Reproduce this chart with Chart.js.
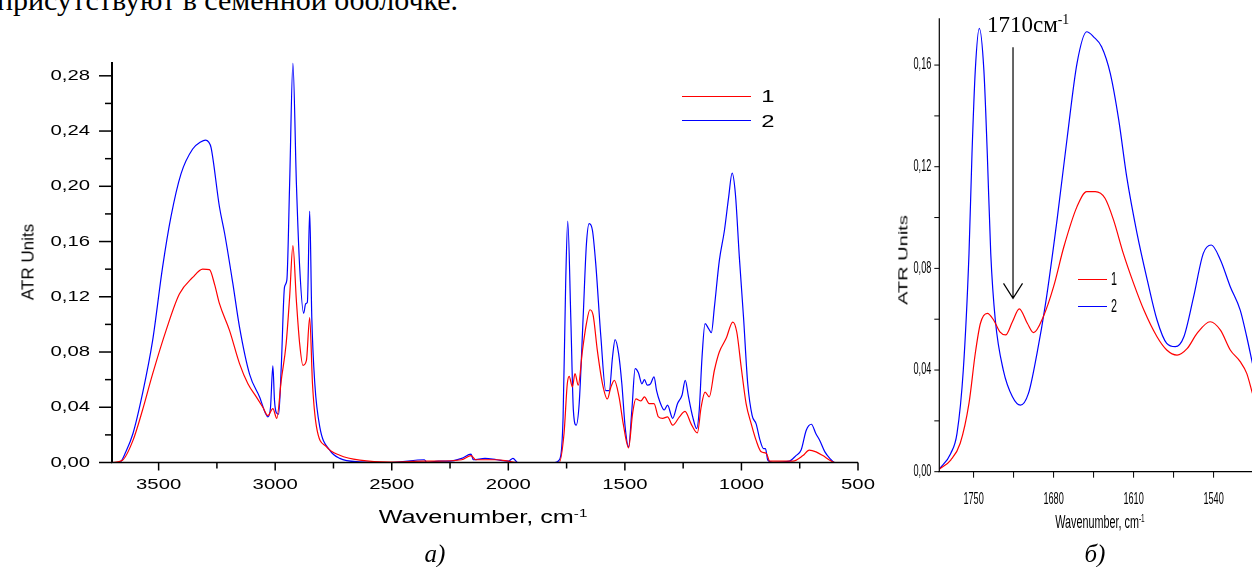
<!DOCTYPE html>
<html lang="ru">
<head>
<meta charset="utf-8">
<title>ATR spectra</title>
<script src="https://cdn.jsdelivr.net/npm/chart.js@4.4.1/dist/chart.umd.min.js"></script>
<style>
    html, body {
        margin: 0;
        padding: 0;
        background: #fff;
    }
    body {
        position: relative;
        width: 1252px;
        height: 567px;
        overflow: hidden;
        font-family: 'Liberation Sans', Arial, sans-serif;
        color: #000;
    }
    canvas {
        position: absolute;
        top: 0;
    }
    .txt {
        position: absolute;
        white-space: nowrap;
        line-height: 1;
    }
    .serif {
        font-family: 'Liberation Serif', 'Times New Roman', serif;
    }
    .key {
        position: absolute;
        height: 1.3px;
    }
    sup {
        font-size: 0.6em;
        vertical-align: 0.55em;
        line-height: 0;
    }
</style>
</head>
<body>

<div class="txt serif" style="left:-3px; top:-15px; font-size:30px;">присутствуют в семенной оболочке.</div>

<canvas id="specFull" width="880" height="567" style="left:0"></canvas>
<canvas id="specZoom" width="390" height="567" style="left:880px"></canvas>

<!-- axis titles, captions and keys -->
<div class="txt" style="left:28px; top:262px; font-size:17px; transform:translate(-50%,-50%) rotate(-90deg);">ATR Units</div>
<div class="txt" style="left:483px; top:517px; font-size:18px; transform:translate(-50%,-50%) scaleX(1.4);">Wavenumber, cm<sup>-1</sup></div>
<div class="txt serif" style="left:435px; top:553px; font-size:25px; font-style:italic; transform:translate(-50%,-50%);">а)</div>

<div class="key" style="left:682px; top:95.5px; width:69px; background:#ff0000;"></div>
<div class="key" style="left:682px; top:120px; width:69px; background:#0000ff;"></div>
<div class="txt" style="left:768px; top:96px; font-size:17px; transform:translate(-50%,-50%) scaleX(1.4);">1</div>
<div class="txt" style="left:768px; top:121px; font-size:17px; transform:translate(-50%,-50%) scaleX(1.4);">2</div>

<div class="txt serif" style="left:987px; top:13px; font-size:23px;">1710см<sup>-1</sup></div>
<div class="txt" style="left:903px; top:260px; font-size:20px; transform:translate(-50%,-50%) rotate(-90deg) scaleY(0.6);">ATR Units</div>
<div class="txt" style="left:1100px; top:522px; font-size:18px; transform:translate(-50%,-50%) scaleX(0.6);">Wavenumber, cm<sup>-1</sup></div>
<div class="txt serif" style="left:1095px; top:553px; font-size:25px; font-style:italic; transform:translate(-50%,-50%);">б)</div>

<div class="key" style="left:1078px; top:278.5px; width:29px; background:#ff0000;"></div>
<div class="key" style="left:1078px; top:306px; width:29px; background:#0000ff;"></div>
<div class="txt" style="left:1114px; top:279px; font-size:18px; transform:translate(-50%,-50%) scaleX(0.6);">1</div>
<div class="txt" style="left:1114px; top:306px; font-size:18px; transform:translate(-50%,-50%) scaleX(0.6);">2</div>

<script>
    // Full range spectra, 3700-500 cm-1
    const fullWn1 = [3700, 3655, 3610, 3569, 3526, 3468, 3411, 3354, 3311, 3282, 3260, 3239, 3196, 3153, 3117, 3081,
        3053, 3031, 3010, 2993, 2974, 2953, 2938, 2924, 2909, 2895, 2881, 2866, 2852, 2840, 2823, 2780, 2723, 2637,
        2500, 2360, 2300, 2200, 2160, 2140, 2100, 2050, 2000, 1960, 1800, 1782, 1761, 1747, 1739, 1725, 1714, 1700,
        1682, 1665, 1650, 1636, 1618, 1596, 1575, 1560, 1545, 1525, 1507, 1484, 1467, 1453, 1431, 1416, 1396, 1375,
        1356, 1338, 1317, 1295, 1266, 1242, 1216, 1189, 1173, 1156, 1138, 1116, 1095, 1066, 1037, 1020, 1001, 980,
        958, 937, 915, 893, 879, 779, 736, 709, 680, 651, 621, 600, 500];
    const fullAbs1 = [0, 0.0017, 0.016, 0.038, 0.064, 0.0957, 0.122, 0.134, 0.140, 0.1396, 0.129, 0.115, 0.0957, 0.0716, 0.057, 0.0475,
        0.040, 0.034, 0.039, 0.032, 0.0595, 0.086, 0.120, 0.157, 0.117, 0.086, 0.0704, 0.074, 0.105, 0.057, 0.026, 0.0113, 0.0053, 0.0017,
        0.0003, 0.001, 0.001, 0.002, 0.005, 0.002, 0.002, 0.002, 0.001, 0, 0, 0, 0.021, 0.057, 0.0624, 0.0547, 0.0644, 0.056,
        0.081, 0.1005, 0.1106, 0.1065, 0.081, 0.057, 0.046, 0.0547, 0.0595, 0.0475, 0.028, 0.0106, 0.0354, 0.046, 0.0446, 0.0475, 0.0427, 0.0427,
        0.033, 0.032, 0.033, 0.027, 0.033, 0.037, 0.028, 0.0214, 0.040, 0.051, 0.0475, 0.0668, 0.080, 0.0897, 0.1017, 0.0945, 0.069, 0.0427,
        0.028, 0.016, 0.0077, 0.0065, 0.001, 0.001, 0.005, 0.009, 0.0077, 0.005, 0.0017, 0, 0];

    const fullWn2 = [3700, 3668, 3640, 3610, 3569, 3526, 3483, 3447, 3404, 3354, 3320, 3299, 3285, 3275, 3239, 3217,
        3182, 3153, 3110, 3067, 3031, 3020, 3010, 3003, 2995, 2985, 2974, 2960, 2950, 2938, 2924, 2909, 2895, 2878,
        2869, 2862, 2852, 2843, 2830, 2809, 2766, 2723, 2637, 2500, 2360, 2350, 2300, 2250, 2200, 2160, 2150, 2100,
        2050, 2000, 1980, 1960, 1800, 1782, 1765, 1754, 1745, 1732, 1721, 1709, 1696, 1679, 1665, 1653, 1639, 1625,
        1603, 1582, 1567, 1553, 1542, 1527, 1513, 1499, 1484, 1470, 1456, 1442, 1427, 1416, 1404, 1390, 1375, 1364,
        1350, 1331, 1317, 1295, 1274, 1255, 1241, 1227, 1209, 1192, 1181, 1169, 1156, 1141, 1129, 1116, 1095, 1073,
        1055, 1040, 1026, 1009, 991, 973, 954, 937, 920, 905, 897, 887, 865, 794, 766, 744, 722, 700, 681, 664, 642,
        621, 600, 500];
    const fullAbs2 = [0, 0, 0.008, 0.021, 0.050, 0.088, 0.1415, 0.178, 0.209, 0.227, 0.232, 0.2335, 0.232, 0.228, 0.185, 0.166,
        0.130, 0.098, 0.064, 0.0475, 0.033, 0.040, 0.070, 0.045, 0.036, 0.035, 0.069, 0.127, 0.132, 0.202, 0.289, 0.202, 0.1415, 0.108,
        0.115, 0.116, 0.182, 0.105, 0.057, 0.026, 0.009, 0.003, 0.0005, 0, 0.002, 0, 0.001, 0.001, 0.003, 0.006, 0.002, 0.003,
        0.002, 0.001, 0.003, 0, 0, 0.0017, 0.033, 0.1295, 0.1748, 0.105, 0.038, 0.027, 0.0427, 0.105, 0.158, 0.173, 0.168, 0.144,
        0.091, 0.052, 0.052, 0.0764, 0.089, 0.079, 0.057, 0.026, 0.0113, 0.038, 0.068, 0.065, 0.057, 0.060, 0.056, 0.057, 0.062, 0.052,
        0.044, 0.038, 0.0415, 0.032, 0.0427, 0.0487, 0.0595, 0.0475, 0.033, 0.0246, 0.038, 0.0764, 0.1005, 0.097, 0.094, 0.1125, 0.146, 0.168,
        0.192, 0.2095, 0.1946, 0.1487, 0.105, 0.057, 0.034, 0.028, 0.016, 0.010, 0.010, 0.0017, 0, 0.001, 0.005, 0.009, 0.0234, 0.0277, 0.021, 0.016, 0.0077,
        0.003, 0, 0];

    // Carbonyl / amide region, 1780-1506 cm-1
    const zoomWn1 = [1780, 1770, 1761.7, 1754, 1748.5, 1744, 1738, 1732.5, 1727, 1722, 1716, 1710, 1703, 1697.5, 1689, 1680,
        1671, 1659.5, 1651, 1643.5, 1635, 1627.5, 1619, 1610, 1601, 1589.5, 1581, 1572, 1563, 1554.5, 1543, 1534,
        1525.4, 1516.7, 1511, 1506];
    const zoomAbs1 = [0.001, 0.0046, 0.0112, 0.027, 0.0466, 0.0584, 0.0623, 0.0597, 0.055, 0.0538, 0.059, 0.0641, 0.0584, 0.0547, 0.061, 0.0728,
        0.0885, 0.1043, 0.1102, 0.1102, 0.1076, 0.099, 0.0859, 0.0741, 0.0636, 0.0531, 0.0479, 0.0459, 0.0485, 0.0544, 0.059, 0.0557,
        0.0479, 0.0433, 0.0387, 0.0308];
    const zoomWn2 = [1780, 1770, 1764.5, 1759, 1754, 1751.4, 1748.5, 1745, 1741, 1738, 1735, 1731, 1724, 1716, 1709, 1702,
        1694.5, 1687, 1677, 1668, 1659.5, 1651, 1645, 1638, 1630.4, 1623, 1616, 1607, 1598, 1589.5, 1581, 1573.5,
        1566, 1557.5, 1549, 1542, 1534, 1525.4, 1516.7, 1511, 1506];
    const zoomAbs2 = [0.001, 0.0072, 0.0151, 0.040, 0.086, 0.125, 0.158, 0.1744, 0.158, 0.125, 0.086, 0.0597, 0.040, 0.0295, 0.0262, 0.0308,
        0.0466, 0.0662, 0.099, 0.1318, 0.1607, 0.1731, 0.1711, 0.1672, 0.1567, 0.1384, 0.116, 0.0938, 0.0754, 0.0597, 0.0505, 0.0492,
        0.0531, 0.0688, 0.0859, 0.0892, 0.0833, 0.0728, 0.0636, 0.0531, 0.0426];

    const RED = '#ff0000';
    const BLUE = '#0000ff';

    function toPoints(xs, ys) {
        return xs.map((x, i) => ({ x: x, y: ys[i] }));
    }

    // tick indices k (value = k * step) that fall inside the scale range
    function tickIndices(scale, step) {
        const out = [];
        const lo = Math.min(scale.min, scale.max);
        const hi = Math.max(scale.min, scale.max);
        for (let k = Math.ceil(lo / step - 1e-9); k * step <= hi + 1e-9; k++) {
            out.push(k);
        }
        return out;
    }

    function stretchedText(ctx, text, x, y, align, sx) {
        ctx.save();
        ctx.translate(x, y);
        ctx.scale(sx, 1);
        ctx.textAlign = align;
        ctx.textBaseline = 'middle';
        ctx.fillText(text, 0, 0);
        ctx.restore();
    }

    // Origin-style axes: left + bottom lines, outward ticks, every second tick labelled
    const originAxes = {
        id: 'originAxes',
        afterDraw(chart, args, o) {
            const ctx = chart.ctx;
            const area = chart.chartArea;
            const xs = chart.scales.x;
            const ys = chart.scales.y;
            ctx.save();
            ctx.strokeStyle = '#000';
            ctx.fillStyle = '#000';
            ctx.font = o.font;
            ctx.lineWidth = o.tickWidth;

            tickIndices(ys, o.yStep).forEach(k => {
                const v = k * o.yStep;
                const py = ys.getPixelForValue(v);
                const major = k % 2 === 0;
                ctx.beginPath();
                ctx.moveTo(area.left - (major ? o.yMajorLen : o.yMinorLen), py);
                ctx.lineTo(area.left, py);
                ctx.stroke();
                if (major) {
                    stretchedText(ctx, v.toFixed(2).replace('.', ','), area.left - o.yGap, py, 'right', o.sx);
                }
            });

            tickIndices(xs, o.xStep).forEach(k => {
                const v = Math.round(k * o.xStep);
                const px = xs.getPixelForValue(v);
                const major = k % 2 === 0;
                ctx.beginPath();
                ctx.moveTo(px, area.bottom);
                ctx.lineTo(px, area.bottom + (major ? o.xMajorLen : o.xMinorLen));
                ctx.stroke();
                if (major) {
                    stretchedText(ctx, String(v), px, area.bottom + o.xGap, 'center', o.sx);
                }
            });

            ctx.lineWidth = o.yLineWidth;
            ctx.beginPath();
            ctx.moveTo(area.left, area.top);
            ctx.lineTo(area.left, area.bottom);
            ctx.stroke();
            ctx.lineWidth = o.xLineWidth;
            ctx.beginPath();
            ctx.moveTo(area.left - 1, area.bottom);
            ctx.lineTo(area.right, area.bottom);
            ctx.stroke();
            ctx.restore();
        }
    };

    // Down arrow pointing at the 1710 cm-1 band
    const bandArrow = {
        id: 'bandArrow',
        afterDraw(chart, args, o) {
            if (!o || o.at === undefined) return;
            const ctx = chart.ctx;
            const px = chart.scales.x.getPixelForValue(o.at);
            const top = chart.scales.y.getPixelForValue(o.from);
            const tip = chart.scales.y.getPixelForValue(o.to);
            ctx.save();
            ctx.strokeStyle = '#000';
            ctx.lineWidth = 1.2;
            ctx.beginPath();
            ctx.moveTo(px, top);
            ctx.lineTo(px, tip);
            ctx.moveTo(px - 9.5, tip - 15);
            ctx.lineTo(px, tip);
            ctx.lineTo(px + 9.5, tip - 15);
            ctx.stroke();
            ctx.restore();
        }
    };

    function lineSet(label, pts, color) {
        return {
            label: label,
            data: pts,
            borderColor: color,
            backgroundColor: color,
            borderWidth: 1.2,
            pointRadius: 0,
            cubicInterpolationMode: 'monotone',
            fill: false
        };
    }

    function makeChart(id, cfg) {
        return new Chart(document.getElementById(id), {
            type: 'line',
            data: {
                datasets: [
                    lineSet('1', toPoints(cfg.wn1, cfg.abs1), RED),
                    lineSet('2', toPoints(cfg.wn2, cfg.abs2), BLUE)
                ]
            },
            options: {
                responsive: false,
                animation: false,
                devicePixelRatio: 1,
                parsing: false,
                layout: { padding: cfg.padding },
                plugins: {
                    legend: { display: false },
                    tooltip: { enabled: false },
                    originAxes: cfg.axes,
                    bandArrow: cfg.arrow || {}
                },
                scales: {
                    x: {
                        type: 'linear',
                        reverse: true,
                        min: cfg.xMin,
                        max: cfg.xMax,
                        grid: { display: false },
                        border: { display: false },
                        ticks: { display: false },
                        afterFit(s) { s.height = cfg.xHeight; }
                    },
                    y: {
                        type: 'linear',
                        min: 0,
                        max: cfg.yMax,
                        grid: { display: false },
                        border: { display: false },
                        ticks: { display: false },
                        afterFit(s) { s.width = cfg.yWidth; }
                    }
                }
            },
            plugins: [originAxes, bandArrow]
        });
    }

    makeChart('specFull', {
        wn1: fullWn1, abs1: fullAbs1, wn2: fullWn2, abs2: fullAbs2,
        xMin: 500, xMax: 3700, yMax: 0.29,
        padding: { left: 0, top: 62, right: 22, bottom: 0 },
        yWidth: 112, xHeight: 104.5,
        axes: {
            font: '14.5px "Liberation Sans", Arial, sans-serif', sx: 1.4,
            yStep: 0.02, yMajorLen: 13, yMinorLen: 7, yGap: 22,
            xStep: 250, xMajorLen: 8, xMinorLen: 6, xGap: 22.5,
            tickWidth: 1.5, yLineWidth: 2, xLineWidth: 1.5
        }
    });

    makeChart('specZoom', {
        wn1: zoomWn1, abs1: zoomAbs1, wn2: zoomWn2, abs2: zoomAbs2,
        xMin: 1500, xMax: 1780, yMax: 0.1784,
        padding: { left: 0, top: 18.3, right: 10.7, bottom: 0 },
        yWidth: 59.3, xHeight: 95.3,
        axes: {
            font: '16px "Liberation Sans", Arial, sans-serif', sx: 0.57,
            yStep: 0.02, yMajorLen: 5, yMinorLen: 5, yGap: 8,
            xStep: 35, xMajorLen: 6, xMinorLen: 6, xGap: 28,
            tickWidth: 1, yLineWidth: 1.2, xLineWidth: 1.2
        },
        arrow: { at: 1715.5, from: 0.167, to: 0.0682 }
    });
</script>
</body>
</html>
